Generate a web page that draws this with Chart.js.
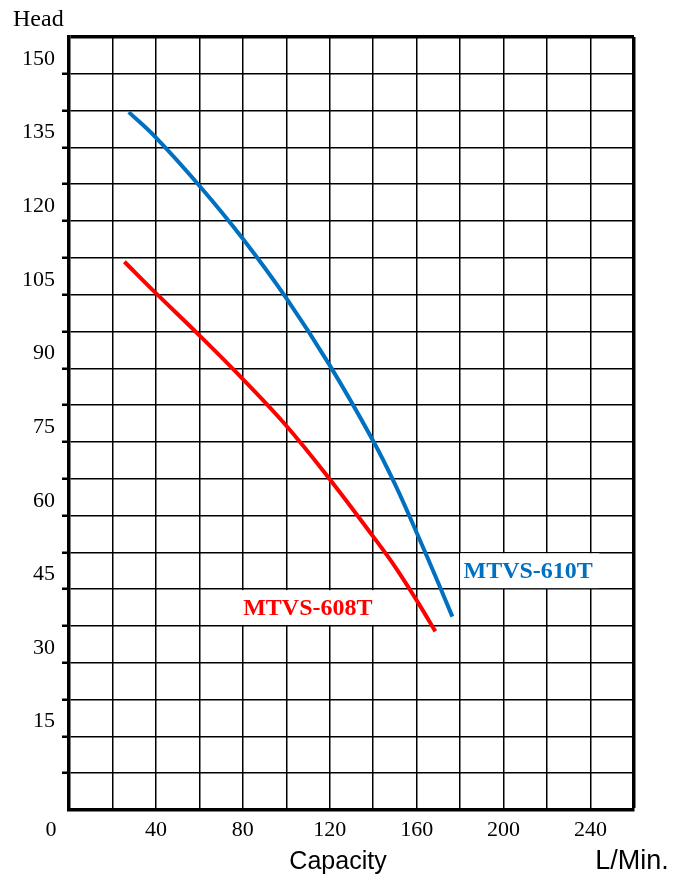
<!DOCTYPE html>
<html>
<head>
<meta charset="utf-8">
<script src="https://cdn.jsdelivr.net/npm/chart.js@4.4.1/dist/chart.umd.min.js"></script>
<style>
  body { margin: 0; background: #fff; }
  #chart-container { width: 682px; height: 877px; }
</style>
</head>
<body>
<div id="chart-container"><canvas id="chart" width="682" height="877"></canvas></div>
<script>
// values: capacity (L/Min.) vs head
var blueX = [27.5, 40, 60, 80, 100, 120, 140, 150, 160, 170, 176.4];
var blueY = [142.2, 137.0, 127.2, 116.4, 104.3, 90.6, 75.2, 66.4, 56.5, 46.2, 39.4];
var redX = [25.5, 40, 60, 80, 100, 120, 140, 150, 160, 168.6];
var redY = [111.7, 105.3, 96.7, 87.8, 78.3, 67.4, 55.7, 49.6, 42.7, 36.4];

var xTickLabels = [0, 40, 80, 120, 160, 200, 240];
var yTickLabels = [15, 30, 45, 60, 75, 90, 105, 120, 135, 150];

// series names, with the grid cells their label sits in (data units)
var seriesNames = ['MTVS-610T', 'MTVS-608T'];
var seriesColors = ['#0070C0', '#FF0000'];
var labelCenters = [[211.3, 48.6], [109.9, 40.9]];
var labelBoxes = [[179.5, 45, 244.5, 52.5], [79, 37.5, 141, 45]];

var xMax = 260, yMax = 157.5;

function toPoints(xs, ys) {
    var pts = [];
    for (var i = 0; i < xs.length; i++) {
        pts.push({x: xs[i], y: ys[i]});
    }
    return pts;
}

var serif = "'Liberation Serif', 'DejaVu Serif', serif";
var sans = "'Liberation Sans', Arial, sans-serif";

var textPlugin = {
    id: 'textPlugin',
    afterDraw: function(chart) {
        var ctx = chart.ctx;
        var xs = chart.scales.x, ys = chart.scales.y;
        var area = chart.chartArea;
        ctx.save();

        // series label boxes and names
        for (var i = 0; i < seriesNames.length; i++) {
            var b = labelBoxes[i];
            var x0 = xs.getPixelForValue(b[0]), x1 = xs.getPixelForValue(b[2]);
            var y0 = ys.getPixelForValue(b[3]), y1 = ys.getPixelForValue(b[1]);
            ctx.fillStyle = '#fff';
            ctx.fillRect(x0 + 1, y0 + 1, x1 - x0 - 2, y1 - y0 - 2);
            ctx.fillStyle = seriesColors[i];
            ctx.font = 'bold 24px ' + serif;
            ctx.textAlign = 'center';
            ctx.textBaseline = 'middle';
            ctx.fillText(seriesNames[i], xs.getPixelForValue(labelCenters[i][0]), ys.getPixelForValue(labelCenters[i][1]));
        }

        ctx.fillStyle = '#000';
        ctx.font = '22px ' + serif;

        // y labels sit half a row above their line
        ctx.textAlign = 'right';
        ctx.textBaseline = 'middle';
        yTickLabels.forEach(function(v) {
            ctx.fillText(String(v), area.left - 14, ys.getPixelForValue(v + 3.0));
        });

        // x labels
        ctx.textAlign = 'center';
        xTickLabels.forEach(function(v) {
            var px = xs.getPixelForValue(v);
            if (v === 0) px -= 18;
            ctx.fillText(String(v), px, area.bottom + 20);
        });

        // axis titles
        ctx.font = '24px ' + serif;
        ctx.textAlign = 'left';
        ctx.fillText('Head', 13, 20);

        ctx.font = '25px ' + sans;
        ctx.textAlign = 'center';
        ctx.fillText('Capacity', 338, 862);
        ctx.font = '27px ' + sans;
        ctx.fillText('L/Min.', 632, 862);
        ctx.restore();
    }
};

var chart = new Chart(document.getElementById('chart'), {
    type: 'line',
    data: {
        datasets: [{
            label: seriesNames[0],
            data: toPoints(blueX, blueY),
            borderColor: seriesColors[0],
            borderWidth: 4,
            pointRadius: 0,
            tension: 0.4
        }, {
            label: seriesNames[1],
            data: toPoints(redX, redY),
            borderColor: seriesColors[1],
            borderWidth: 4,
            pointRadius: 0,
            tension: 0.4
        }]
    },
    options: {
        responsive: false,
        animation: false,
        layout: {padding: {left: 62, top: 37, right: 48, bottom: 67}},
        plugins: {legend: {display: false}, tooltip: {enabled: false}},
        scales: {
            x: {
                type: 'linear',
                min: 0, max: xMax,
                ticks: {display: false, stepSize: 20},
                grid: {
                    color: '#000',
                    lineWidth: function(c) { return c.tick && c.tick.value === xMax ? 3.5 : 1.5; },
                    drawTicks: false
                },
                border: {display: true, color: '#000', width: 3.5}
            },
            y: {
                min: 0, max: yMax,
                ticks: {display: false, stepSize: 7.5},
                grid: {
                    color: '#000',
                    lineWidth: function(c) { return c.tick && c.tick.value === yMax ? 3.5 : 1.5; },
                    drawTicks: true,
                    tickLength: 7,
                    tickWidth: 2.5,
                    tickColor: function(c) { return c.tick && (c.tick.value === yMax || c.tick.value === 0) ? 'rgba(0,0,0,0)' : '#000'; }
                },
                border: {display: true, color: '#000', width: 3.5}
            }
        }
    },
    plugins: [textPlugin]
});
</script>
</body>
</html>
